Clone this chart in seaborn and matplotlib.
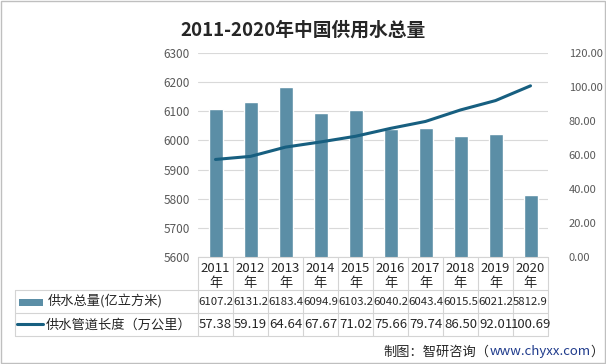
import numpy as np
import matplotlib
matplotlib.use("Agg")
import matplotlib.pyplot as plt
import seaborn as sns
from matplotlib.patches import Rectangle
from matplotlib.lines import Line2D

years = ["2011", "2012", "2013", "2014", "2015", "2016", "2017", "2018", "2019", "2020"]
supply = [6107.2, 6131.2, 6183.4, 6094.9, 6103.2, 6040.2, 6043.4, 6015.5, 6021.2, 5812.9]
pipe = [57.38, 59.19, 64.64, 67.67, 71.02, 75.66, 79.74, 86.50, 92.01, 100.69]
supply_labels = ["6107.2", "6131.2", "6183.4", "6094.9", "6103.2", "6040.2", "6043.4", "6015.5", "6021.2", "5812.9"]
pipe_labels = ["57.38", "59.19", "64.64", "67.67", "71.02", "75.66", "79.74", "86.50", "92.01", "100.69"]
series_names = ["供水总量(亿立方米)", "供水管道长度（万公里）"]
title = "2011-2020年中国供用水总量"

sns.set_theme(style="white")
plt.rcParams['font.family'] = ['Noto Sans CJK SC', 'DejaVu Sans']

W, H = 606, 364
fig = plt.figure(figsize=(W / 100, H / 100), dpi=100)

def fx(px):
    return px / W

def fy(py):
    return 1 - py / H

L, R, T, B = 198, 548, 53, 257
ax = fig.add_axes([fx(L), fy(B), fx(R - L), (B - T) / H])

bar_color = "#5b8ea6"
line_color = "#175f80"
grid_color = "#d9d9d9"
tick_color = "#595959"

sns.barplot(x=years, y=supply, color=bar_color, width=0.4, ax=ax, saturation=1)
ax.set_ylim(5600, 6300)
ax.set_yticks(np.arange(5600, 6301, 100))
ax.set_xlim(-0.5, len(years) - 0.5)
ax.yaxis.grid(True, color=grid_color, lw=0.8)
ax.set_axisbelow(True)
ax.set_xticks([])
ax.set_xlabel("")
ax.set_ylabel("")
ax.tick_params(axis='y', labelsize=8.5, colors=tick_color, length=0, pad=6)
for s in ax.spines.values():
    s.set_visible(False)

ax2 = ax.twinx()
sns.lineplot(x=np.arange(len(years)), y=pipe, color=line_color, lw=2.2, ax=ax2)
ax2.set_ylim(0, 120)
ax2.set_yticks(np.arange(0, 121, 20))
ax2.set_yticklabels([f"{v:.2f}" for v in np.arange(0, 121, 20)])
ax2.tick_params(axis='y', labelsize=8, colors=tick_color, length=0, pad=15)
ax2.set_xlim(-0.5, len(years) - 0.5)
ax2.set_xticks([])
ax2.set_ylabel("")
ax2.grid(False)
for s in ax2.spines.values():
    s.set_visible(False)

# Title
fig.text(0.5, fy(30), title, ha='center', va='center', fontsize=13.5,
         fontweight='bold', color="#262626")

# Data table
tbl_color = "#d4d4d4"
rows_y = [257, 290, 313, 336]
tleft = 15
col_w = (R - L) / len(years)
cols_x = [L + i * col_w for i in range(len(years) + 1)]

def hline(y, x0, x1):
    fig.add_artist(Line2D([fx(x0), fx(x1)], [fy(y), fy(y)], color=tbl_color, lw=0.8))

def vline(x, y0, y1):
    fig.add_artist(Line2D([fx(x), fx(x)], [fy(y0), fy(y1)], color=tbl_color, lw=0.8))

hline(rows_y[0], L, R)
for y in rows_y[1:]:
    hline(y, tleft, R)
for x in cols_x:
    vline(x, rows_y[0], rows_y[3])
vline(tleft, rows_y[1], rows_y[3])

txt_color = "#262626"
fs = 9.5
for i, yr in enumerate(years):
    cx = L + (i + 0.5) * col_w
    fig.text(fx(cx), fy(268), yr, ha='center', va='center', fontsize=fs, color=txt_color)
    fig.text(fx(cx), fy(283), "年", ha='center', va='center', fontsize=fs, color=txt_color)
    fig.text(fx(cx), fy(302), supply_labels[i], ha='center', va='center', fontsize=8.2, color=txt_color)
    fig.text(fx(cx), fy(325), pipe_labels[i], ha='center', va='center', fontsize=fs, color=txt_color)

# legend keys in table
fig.add_artist(Rectangle((fx(19), fy(306)), fx(24), 7 / H, color=bar_color, lw=0))
fig.add_artist(Line2D([fx(17), fx(43)], [fy(324), fy(324)], color=line_color, lw=2.2))
fig.text(fx(48), fy(302), series_names[0], ha='left', va='center', fontsize=fs, color=txt_color)
fig.text(fx(46), fy(325), series_names[1], ha='left', va='center', fontsize=fs, color=txt_color)

# Source text
renderer = fig.canvas.get_renderer()
parts = [("）", "#262626"), ("www.chyxx.com", "#1f3b8c"), ("制图：智研咨询（", "#262626")]
xr = 604
for s, c in parts:
    t = fig.text(fx(xr), fy(352), s, ha='right', va='center', fontsize=9.5, color=c)
    bb = t.get_window_extent(renderer=renderer)
    xr -= bb.width

# Border
fig.add_artist(Rectangle((0.001, 0.002), 0.997, 0.996, fill=False, ec="#bfbfbf", lw=1.0))

fig.savefig("out.png", dpi=100)
